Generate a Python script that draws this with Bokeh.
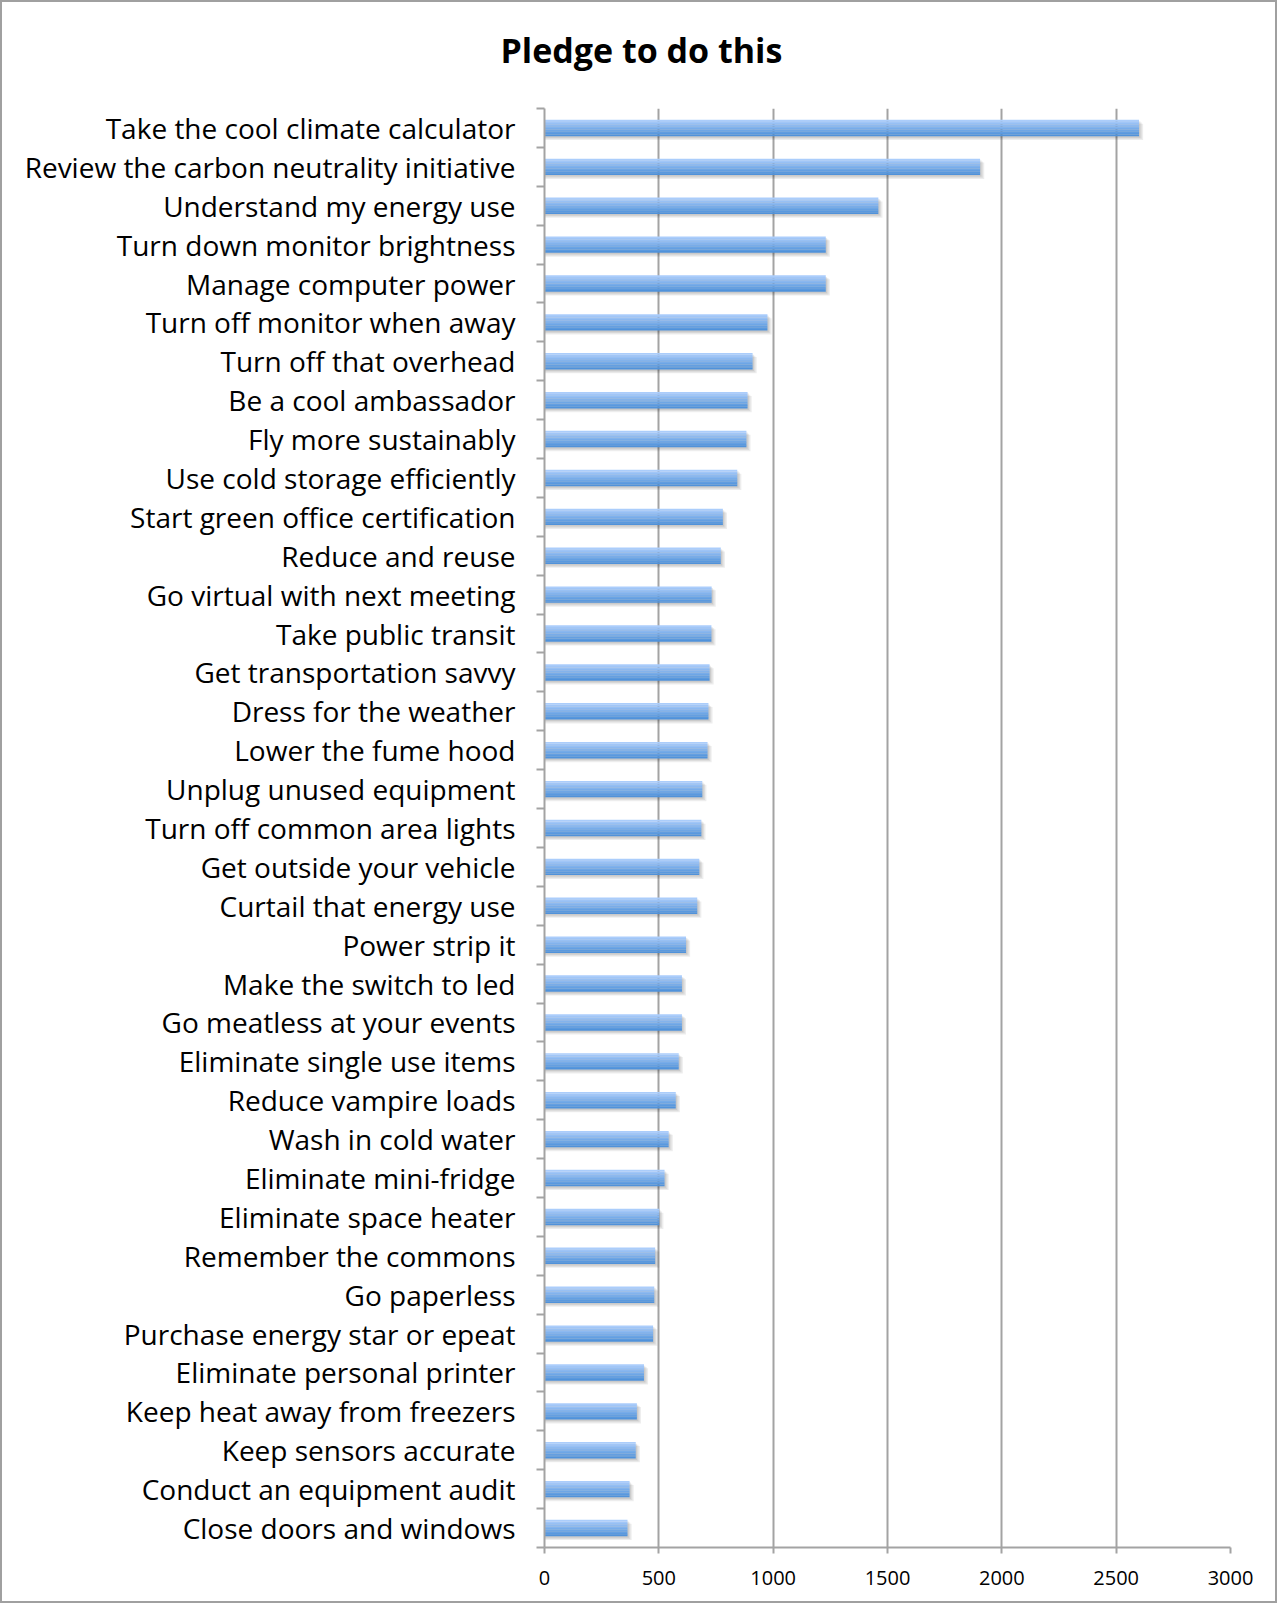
from bokeh.plotting import figure
from bokeh.models import Range1d, FixedTicker, ColumnDataSource, Title
from bokeh.transform import dodge
from bokeh.embed import file_html
from bokeh.resources import INLINE

categories = [
    "Take the cool climate calculator",
    "Review the carbon neutrality initiative",
    "Understand my energy use",
    "Turn down monitor brightness",
    "Manage computer power",
    "Turn off monitor when away",
    "Turn off that overhead",
    "Be a cool ambassador",
    "Fly more sustainably",
    "Use cold storage efficiently",
    "Start green office certification",
    "Reduce and reuse",
    "Go virtual with next meeting",
    "Take public transit",
    "Get transportation savvy",
    "Dress for the weather",
    "Lower the fume hood",
    "Unplug unused equipment",
    "Turn off common area lights",
    "Get outside your vehicle",
    "Curtail that energy use",
    "Power strip it",
    "Make the switch to led",
    "Go meatless at your events",
    "Eliminate single use items",
    "Reduce vampire loads",
    "Wash in cold water",
    "Eliminate mini-fridge",
    "Eliminate space heater",
    "Remember the commons",
    "Go paperless",
    "Purchase energy star or epeat",
    "Eliminate personal printer",
    "Keep heat away from freezers",
    "Keep sensors accurate",
    "Conduct an equipment audit",
    "Close doors and windows",
]
pledges = [
    2600, 1905, 1460, 1230, 1230, 975, 910, 888, 883, 843,
    780, 771, 731, 730, 722, 717, 713, 690, 686, 677,
    668, 619, 601, 601, 587, 574, 543, 525, 502, 484,
    480, 475, 435, 404, 399, 372, 363,
]
x_ticks = [0, 500, 1000, 1500, 2000, 2500, 3000]

n = len(categories)
rows = list(range(n))
source = ColumnDataSource(dict(row=rows, value=pledges))

FONT = "Open Sans"
GRID = "#a3a3a3"

p = figure(
    width=1277, height=1603,
    output_backend="svg", toolbar_location=None,
    x_range=Range1d(0, 3000), y_range=Range1d(n - 0.5, -0.5),
    min_border_left=542, min_border_right=49,
    min_border_top=106, min_border_bottom=58,
)
p.styles = {"border": "2px solid #a0a0a0"}
p.outline_line_color = None
p.background_fill_color = "white"
p.border_fill_color = "white"
p.title.text = ""
p.title.standoff = 0

# empty spacer nearest the frame, then the chart title above it,
# shifted left so that it is centred over the whole chart
p.add_layout(Title(text=" ", text_font_size="1px", standoff=33), "above")
p.add_layout(Title(text="Pledge to do this", align="left", offset=-44, standoff=0,
                   text_font=FONT, text_font_size="34px", text_font_style="bold",
                   text_color="black"), "above")

# soft drop shadow under each bar
bar_h = 0.42
for dx, dy, a in [(18, 0.10, 0.07), (12, 0.07, 0.07), (6, 0.04, 0.08)]:
    p.hbar(y=dodge("row", dy, range=p.y_range), right=dodge("value", dx, range=p.x_range),
           left=0, height=bar_h, source=source, fill_color="black", fill_alpha=a,
           line_color=None)

# vertical gradient fill built from thin slices, light on top, darker below
top = (0xAB, 0xCD, 0xFB)
bot = (0x50, 0x92, 0xDA)
slices = 10
sh = bar_h / slices
for s in range(slices):
    t = s / (slices - 1)
    col = "#%02x%02x%02x" % tuple(int(round(top[c] + (bot[c] - top[c]) * t)) for c in range(3))
    off = -bar_h / 2 + sh * (s + 0.5)
    p.hbar(y=dodge("row", off, range=p.y_range), right="value", left=0,
           height=sh * 1.05, source=source, fill_color=col, line_color=None)

# x axis
p.xaxis.ticker = FixedTicker(ticks=x_ticks)
p.xaxis.axis_line_color = GRID
p.xaxis.axis_line_width = 2
p.xaxis.major_tick_line_color = GRID
p.xaxis.major_tick_line_width = 2
p.xaxis.major_tick_out = 6
p.xaxis.major_tick_in = 0
p.xaxis.minor_tick_line_color = None
p.xaxis.major_label_text_font = FONT
p.xaxis.major_label_text_font_size = "20px"
p.xaxis.major_label_text_color = "black"
p.xaxis.major_label_standoff = 17

p.xgrid.ticker = FixedTicker(ticks=x_ticks[1:])
p.xgrid.grid_line_color = GRID
p.xgrid.grid_line_width = 2
p.ygrid.grid_line_color = None

# y axis: labels at row centres, tick marks between rows
p.yaxis.ticker = FixedTicker(ticks=rows, minor_ticks=[r - 0.5 for r in range(n + 1)])
p.yaxis.major_label_overrides = {r: c for r, c in zip(rows, categories)}
p.yaxis.axis_line_color = GRID
p.yaxis.axis_line_width = 2
p.yaxis.major_tick_line_color = None
p.yaxis.major_tick_out = 0
p.yaxis.major_tick_in = 0
p.yaxis.minor_tick_line_color = GRID
p.yaxis.minor_tick_line_width = 2
p.yaxis.minor_tick_out = 8
p.yaxis.minor_tick_in = 0
p.yaxis.major_label_text_font = FONT
p.yaxis.major_label_text_font_size = "28px"
p.yaxis.major_label_text_color = "black"
p.yaxis.major_label_standoff = 21

open("out.html", "w").write(file_html(p, INLINE))
